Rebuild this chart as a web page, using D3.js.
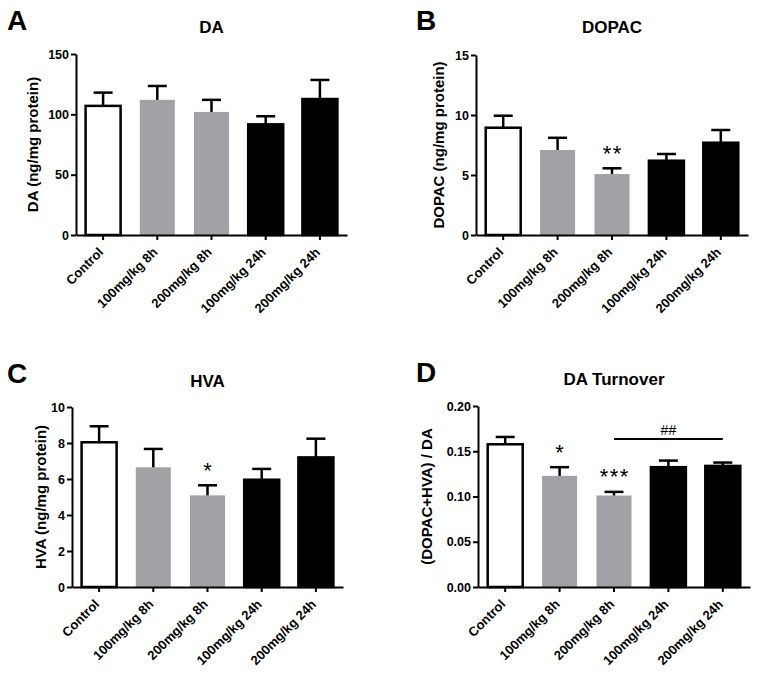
<!DOCTYPE html>
<html>
<head>
<meta charset="utf-8">
<script src="https://cdnjs.cloudflare.com/ajax/libs/d3/7.8.5/d3.min.js"></script>
<style>
  body { margin: 0; background: #fff; }
  svg text { font-family: "Liberation Sans", Arial, sans-serif; fill: #000; }
</style>
</head>
<body>
<div id="chart"></div>
<script>
// groups shared by all four panels
var groups = ["Control", "100mg/kg 8h", "200mg/kg 8h", "100mg/kg 24h", "200mg/kg 24h"];

// A: DA
var daMean = [107, 112, 102, 91.7, 112.7];
var daSem  = [11, 11.5, 10, 6.7, 15.8];
var daTicks = [0, 50, 100, 150];

// B: DOPAC
var dopacMean = [8.94, 7.08, 5.08, 6.19, 7.69];
var dopacSem  = [1.0, 1.02, 0.48, 0.56, 1.06];
var dopacSig  = ["", "", "**", "", ""];
var dopacTicks = [0, 5, 10, 15];

// C: HVA
var hvaMean = [8.04, 6.65, 5.09, 5.96, 7.2];
var hvaSem  = [0.89, 1.02, 0.56, 0.6, 1.04];
var hvaSig  = ["", "", "*", "", ""];
var hvaTicks = [0, 2, 4, 6, 8, 10];

// D: DA turnover
var turnMean = [0.1577, 0.1228, 0.1011, 0.1324, 0.1338];
var turnSem  = [0.0081, 0.0096, 0.004, 0.0073, 0.0037];
var turnSig  = ["", "*", "***", "", ""];
var turnTicks = [0, 0.05, 0.10, 0.15, 0.20];
// ## bracket: from group 2 to group 4, at this level
var hashFrom = 2, hashTo = 4, hashLevel = 0.1635;

var fills = ["#ffffff", "#a2a2a6", "#a2a2a6", "#000000", "#000000"];

var svg = d3.select("#chart").append("svg")
    .attr("width", 761)
    .attr("height", 677)
    .style("background", "#fff");

var drawPanel = function(p){
    var g = svg.append("g");
    var x = d3.scaleBand().domain(groups).range([p.x0, p.x1]).padding(0);
    var y = d3.scaleLinear().domain([0, p.ticks[p.ticks.length-1]]).range([p.y0, p.y1]);
    var bw = 35;

    // bars
    g.selectAll("rect.bar").data(p.mean).enter().append("rect")
        .attr("class", "bar")
        .attr("x", function(d,i){ return x(groups[i]) + x.bandwidth()/2 - bw/2; })
        .attr("y", function(d){ return y(d); })
        .attr("width", bw)
        .attr("height", function(d){ return y(0) - y(d); })
        .style("fill", function(d,i){ return fills[i]; })
        .style("stroke", function(d,i){ return i==0 || i>2 ? "#000" : "none"; })
        .style("stroke-width", 2.5);

    // error bars (upper only)
    p.mean.forEach(function(m,i){
        var cx = x(groups[i]) + x.bandwidth()/2;
        var top = y(m + p.sem[i]);
        g.append("line").attr("x1",cx).attr("x2",cx)
            .attr("y1", y(m)).attr("y2", top)
            .style("stroke","#000").style("stroke-width",2.5);
        g.append("line").attr("x1",cx-9.5).attr("x2",cx+9.5)
            .attr("y1", top).attr("y2", top)
            .style("stroke","#000").style("stroke-width",2.5);
        if(p.sig && p.sig[i]){
            g.append("text")
                .attr("x", cx + 0.75)
                .attr("y", top - 7.5)
                .attr("text-anchor","middle")
                .style("font-size","22px")
                .style("letter-spacing","1.5px")
                .text(p.sig[i]);
        }
    });

    // axes
    var yAxis = d3.axisLeft(y).tickValues(p.ticks).tickSize(5).tickSizeOuter(0).tickPadding(2)
        .tickFormat(p.fmt ? d3.format(p.fmt) : d3.format("d"));
    var ya = g.append("g").attr("transform","translate("+p.x0+",0)").call(yAxis);
    var xAxis = d3.axisBottom(x).tickSize(5).tickSizeOuter(0).tickFormat("");
    var xa = g.append("g").attr("transform","translate(0,"+p.y0+")").call(xAxis);
    [ya, xa].forEach(function(a){
        a.select(".domain").style("stroke","#000").style("stroke-width",2);
        a.selectAll(".tick line").style("stroke","#000").style("stroke-width",2);
    });
    ya.selectAll(".tick text")
        .style("font-size","12.5px").style("font-weight","bold").style("fill","#000")
        .style("font-family",'"Liberation Sans", Arial, sans-serif');

    // rotated category labels
    groups.forEach(function(name){
        var cx = x(name) + x.bandwidth()/2 + 1;
        g.append("text")
            .attr("transform","translate("+cx+","+(p.y0+18)+") rotate(-45)")
            .attr("text-anchor","end")
            .style("font-size","13px").style("font-weight","bold")
            .text(name);
    });

    // y label
    g.append("text")
        .attr("transform","translate("+p.labelX+","+((p.y0+p.y1)/2)+") rotate(-90)")
        .attr("text-anchor","middle")
        .style("font-size","15px").style("font-weight","bold")
        .text(p.ylabel);

    // title
    g.append("text")
        .attr("x", (p.x0+p.x1)/2)
        .attr("y", p.titleY)
        .attr("text-anchor","middle")
        .style("font-size","17px").style("font-weight","bold")
        .text(p.title);

    // panel letter
    g.append("text")
        .attr("x", p.letterX).attr("y", p.letterY)
        .style("font-size","28px").style("font-weight","bold")
        .text(p.letter);

    return {x:x, y:y, g:g};
}

drawPanel({mean:daMean, sem:daSem, ticks:daTicks, x0:76, x1:347, y0:235, y1:54,
    ylabel:"DA (ng/mg protein)", labelX:38, title:"DA", titleY:33, letter:"A", letterX:7, letterY:30});
drawPanel({mean:dopacMean, sem:dopacSem, sig:dopacSig, ticks:dopacTicks, x0:476, x1:748, y0:235, y1:55,
    ylabel:"DOPAC (ng/mg protein)", labelX:444, title:"DOPAC", titleY:33, letter:"B", letterX:416, letterY:30});
drawPanel({mean:hvaMean, sem:hvaSem, sig:hvaSig, ticks:hvaTicks, x0:72, x1:343, y0:587, y1:407,
    ylabel:"HVA (ng/mg protein)", labelX:46, title:"HVA", titleY:387, letter:"C", letterX:7, letterY:383});
var d = drawPanel({mean:turnMean, sem:turnSem, sig:turnSig, ticks:turnTicks, fmt:".2f", x0:478, x1:750, y0:587, y1:406,
    ylabel:"(DOPAC+HVA) / DA", labelX:432, title:"DA Turnover", titleY:385, letter:"D", letterX:416, letterY:382});

// ## comparison line in panel D
var hx0 = d.x(groups[hashFrom]) + d.x.bandwidth()/2;
var hx1 = d.x(groups[hashTo]) + d.x.bandwidth()/2;
d.g.append("line")
    .attr("x1", hx0).attr("x2", hx1)
    .attr("y1", d.y(hashLevel)).attr("y2", d.y(hashLevel))
    .style("stroke","#000").style("stroke-width",2);
d.g.append("text")
    .attr("x", (hx0+hx1)/2).attr("y", d.y(hashLevel) - 4)
    .attr("text-anchor","middle")
    .style("font-size","14px")
    .text("##");
</script>
</body>
</html>
